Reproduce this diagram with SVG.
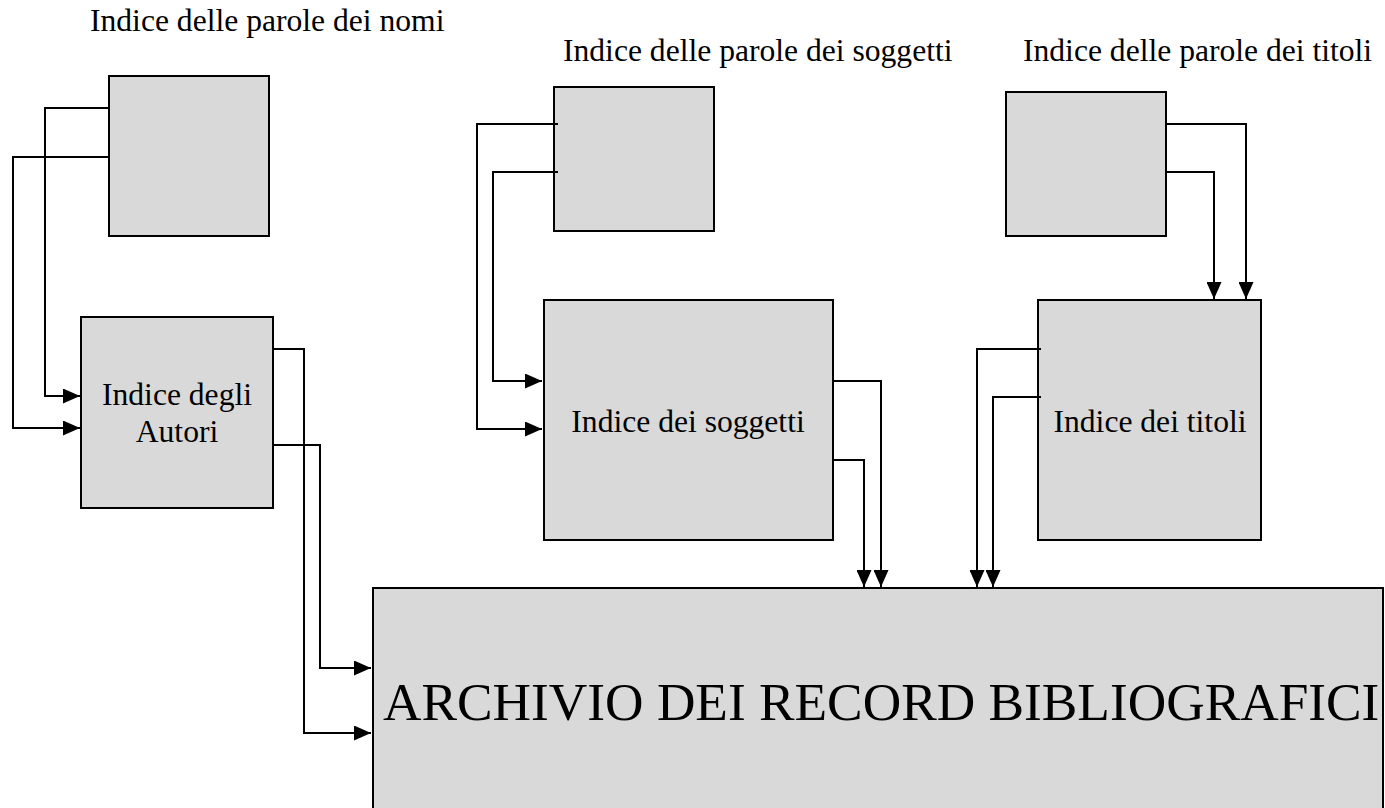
<svg xmlns="http://www.w3.org/2000/svg" width="1385" height="808" viewBox="0 0 1385 808">
<style>
.box{fill:#d9d9d9;stroke:#000;stroke-width:2}
.lbl{font-family:"Liberation Serif","Times New Roman",serif;font-size:31.6px;fill:#000}
.big{font-family:"Liberation Serif","Times New Roman",serif;font-size:53.3px;fill:#000}
.c{fill:none;stroke:#000;stroke-width:2;marker-end:url(#ah)}
</style>
<defs>
<marker id="ah" markerUnits="userSpaceOnUse" markerWidth="17" markerHeight="15" refX="17" refY="7.5" orient="auto">
<path d="M0,0 L17,7.5 L0,15 z" fill="#000"/>
</marker>
</defs>
<rect width="1385" height="808" fill="#fff"/>
<g id="node-nomi">
<rect class="box" x="109" y="76" width="160" height="160"/>
<text class="lbl" x="90" y="31">Indice delle parole dei nomi</text>
</g>
<g id="node-autori">
<rect class="box" x="81" y="317" width="192" height="191"/>
<text class="lbl" x="177" y="405" text-anchor="middle">Indice degli</text>
<text class="lbl" x="177" y="442" text-anchor="middle">Autori</text>
</g>
<g id="node-parole-soggetti">
<rect class="box" x="554" y="87" width="160" height="144"/>
<text class="lbl" x="563" y="61">Indice delle parole dei soggetti</text>
</g>
<g id="node-soggetti">
<rect class="box" x="544" y="300" width="289" height="240"/>
<text class="lbl" x="688" y="432" text-anchor="middle">Indice dei soggetti</text>
</g>
<g id="node-parole-titoli">
<rect class="box" x="1006" y="92" width="160" height="144"/>
<text class="lbl" x="1023" y="61">Indice delle parole dei titoli</text>
</g>
<g id="node-titoli">
<rect class="box" x="1038" y="300" width="223" height="240"/>
<text class="lbl" x="1150" y="432" text-anchor="middle">Indice dei titoli</text>
</g>
<g id="node-archivio">
<rect class="box" x="373" y="588" width="1010" height="240"/>
<text class="big" x="383" y="720">ARCHIVIO DEI RECORD BIBLIOGRAFICI</text>
</g>
<g id="connectors">
<polyline class="c" points="109,108 45,108 45,396 80,396"/>
<polyline class="c" points="109,157 13,157 13,428 80,428"/>
<polyline class="c" points="273,349 304,349 304,733 371,733"/>
<polyline class="c" points="273,445 320,445 320,668 371,668"/>
<polyline class="c" points="558,124 477,124 477,429 542,429"/>
<polyline class="c" points="558,172 493,172 493,381 542,381"/>
<polyline class="c" points="833,381 881,381 881,587"/>
<polyline class="c" points="833,460 864,460 864,587"/>
<polyline class="c" points="1166,124 1246,124 1246,299"/>
<polyline class="c" points="1166,172 1214,172 1214,299"/>
<polyline class="c" points="1041,349 977,349 977,587"/>
<polyline class="c" points="1041,397 993,397 993,587"/>
</g>
</svg>
